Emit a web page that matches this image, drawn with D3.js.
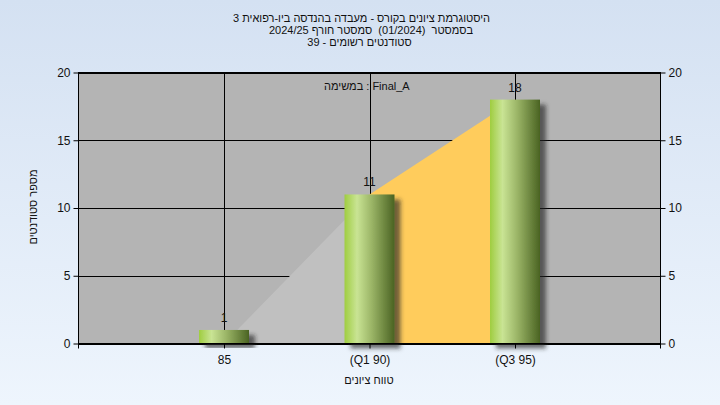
<!DOCTYPE html>
<html><head><meta charset="utf-8">
<script src="https://cdn.jsdelivr.net/npm/d3@7"></script>
<style>html,body{margin:0;padding:0;overflow:hidden}svg{display:block}text{font-family:"Liberation Sans",Arial,"DejaVu Sans",sans-serif;fill:#111}</style>
</head><body>
<script>
// ---- data ----
const titleLines = ["היסטוגרמת ציונים בקורס - מעבדה בהנדסה ביו-רפואית 3", "בסמסטר  (01/2024)  סמסטר חורף 2024/25", "סטודנטים רשומים - 39"];
const categories = ["85", "(Q1 90)", "(Q3 95)"];
const counts = [1, 11, 18];
const areaValues = [0, 11, 18];
const areaColors = ["#c0c0c0", "#ffcc5c"];
const yTicks = [0, 5, 10, 15, 20];
const legendText = "במשימה : Final_A";
const xTitle = "טווח ציונים";
const yTitle = "מספר סטודנטים";

const W = 720, H = 405;
const L = 78.5, R = 660.5, T = 72.5, B = 343.5;
const svg = d3.select("body").append("svg").attr("width", W).attr("height", H);
const defs = svg.append("defs");
const bg = defs.append("linearGradient").attr("id","bg").attr("x1",0).attr("y1",0).attr("x2",0).attr("y2",1);
bg.append("stop").attr("offset",0).attr("stop-color","#d4e1f2");
bg.append("stop").attr("offset",1).attr("stop-color","#eef5fd");
const bar = defs.append("linearGradient").attr("id","bar").attr("x1",0).attr("y1",0).attr("x2",1).attr("y2",0);
[[0,"#9fcd40"],[0.25,"#c9e494"],[0.55,"#9ab466"],[1,"#4a6322"]].forEach(([o,c])=>bar.append("stop").attr("offset",o).attr("stop-color",c));
const f = defs.append("filter").attr("id","sh").attr("x","-20%").attr("y","-20%").attr("width","150%").attr("height","150%");
f.append("feDropShadow").attr("dx",6).attr("dy",5).attr("stdDeviation",2).attr("flood-color","#222").attr("flood-opacity",0.65);

svg.append("rect").attr("width",W).attr("height",H).attr("fill","url(#bg)");

const x = d3.scalePoint().domain(categories).range([L, R]).padding(1);
const y = d3.scaleLinear().domain([0, 20]).range([B, T]);

// plot background
svg.append("rect").attr("x",L).attr("y",T).attr("width",R-L).attr("height",B-T).attr("fill","#b4b4b4");

// gridlines
const g = svg.append("g").attr("stroke","#000").attr("stroke-width",1);
yTicks.forEach(t => g.append("line").attr("x1",L).attr("x2",R).attr("y1",Math.round(y(t))+0.5).attr("y2",Math.round(y(t))+0.5));
categories.forEach(c => g.append("line").attr("x1",Math.round(x(c))+0.5).attr("x2",Math.round(x(c))+0.5).attr("y1",T).attr("y2",B));

// area segments
for (let i = 0; i < categories.length - 1; i++) {
  const pts = [[x(categories[i]), y(0)], [x(categories[i]), y(areaValues[i])], [x(categories[i+1]), y(areaValues[i+1])], [x(categories[i+1]), y(0)]];
  svg.append("path").attr("d", d3.line()(pts) + "Z").attr("fill", areaColors[i]);
}

// bars
const bw = 50;
svg.selectAll("rect.bar").data(categories).enter().append("rect").attr("class","bar")
  .attr("x", d => x(d) - bw/2).attr("width", bw)
  .attr("y", (d,i) => y(counts[i])).attr("height", (d,i) => y(0) - y(counts[i]))
  .attr("fill","url(#bar)").attr("filter","url(#sh)");

// value labels
svg.selectAll("text.val").data(categories).enter().append("text").attr("class","val")
  .attr("x", d => x(d)).attr("y", (d,i) => y(counts[i]) - 8)
  .attr("text-anchor","middle").attr("font-size",12).text((d,i) => counts[i]);

// frame
svg.append("rect").attr("x",L).attr("y",T).attr("width",R-L).attr("height",B-T).attr("fill","none").attr("stroke","#000");

// axes
const yl = d3.axisLeft(y).tickValues(yTicks).tickSize(5).tickPadding(3);
const yr = d3.axisRight(y).tickValues(yTicks).tickSize(5).tickPadding(3);
const xb = d3.axisBottom(x).tickSize(5).tickPadding(7);
function style(sel){ sel.select(".domain").remove(); sel.selectAll("line").attr("stroke","#000"); sel.selectAll("text").attr("font-size",12).attr("font-family","Liberation Sans, Arial, sans-serif").attr("fill","#111"); }
svg.append("g").attr("transform",`translate(${L},0)`).call(yl).call(style);
svg.append("g").attr("transform",`translate(${R},0)`).call(yr).call(style);
svg.append("g").attr("transform",`translate(0,${B})`).call(xb).call(style);
[L, R].forEach(px => svg.append("line").attr("x1",px).attr("x2",px).attr("y1",B).attr("y2",B+5).attr("stroke","#000"));

// titles
const tc = [361.5, 371, 359.5], ty = [21.5, 33.5, 45.5];
titleLines.forEach((t,i) => svg.append("text").attr("x",tc[i]).attr("y",ty[i]).attr("text-anchor","middle").attr("direction","rtl")
  .style("white-space","pre").attr("font-size",11).text(t));

svg.append("text").attr("x",324).attr("y",90).attr("font-size",11).attr("direction","ltr").text(legendText);
svg.append("text").attr("x",369).attr("y",384).attr("text-anchor","middle").attr("font-size",11).text(xTitle);
svg.append("text").attr("transform","translate(37,207) rotate(-90)").attr("text-anchor","middle").attr("font-size",11).text(yTitle);
</script>
</body></html>
